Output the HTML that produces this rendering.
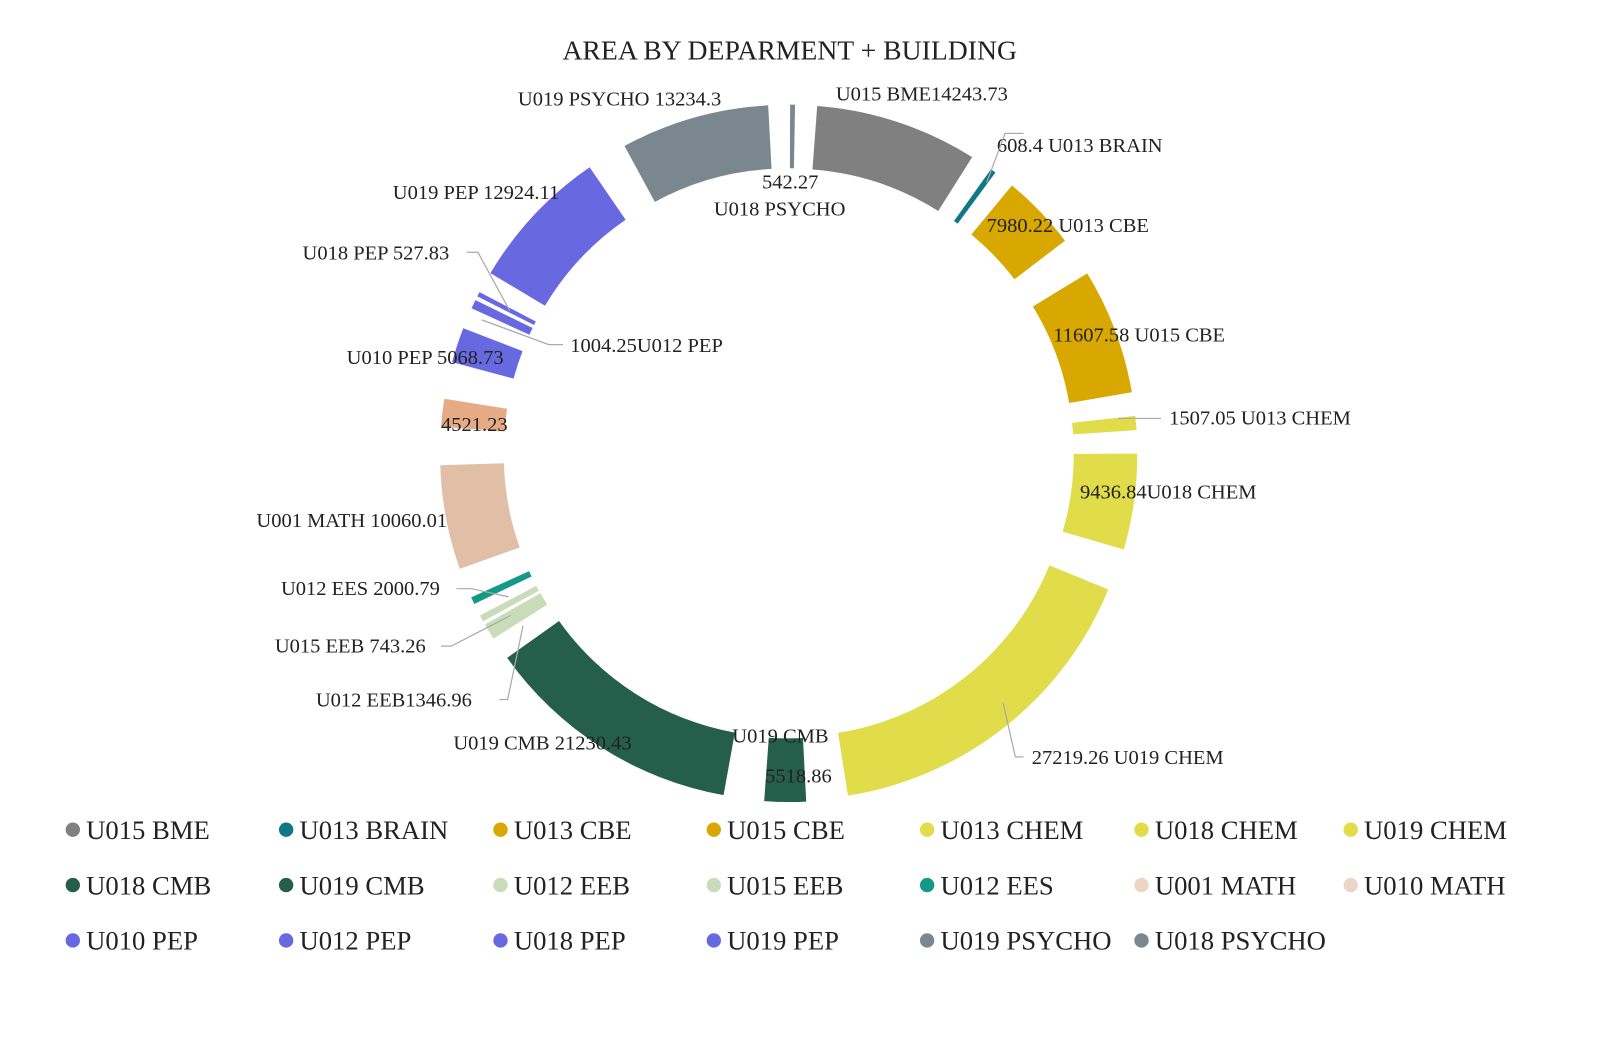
<!DOCTYPE html>
<html><head><meta charset="utf-8"><style>
body{margin:0;background:#fff;}
svg text{font-family:"Liberation Serif",serif;fill:#222;}
</style></head><body>
<svg id="s" width="1600" height="1036" xmlns="http://www.w3.org/2000/svg">
<g transform="scale(1.0256)">
<text x="770" y="58" font-size="27" text-anchor="middle">AREA BY DEPARMENT + BUILDING</text>
<g id="arcs"></g>
<g font-size="20">
<text x="505" y="103">U019 PSYCHO 13234.3</text>
<text x="815" y="98">U015 BME14243.73</text>
<text x="743" y="184">542.27</text>
<text x="696" y="210">U018 PSYCHO</text>
<text x="972" y="148">608.4 U013 BRAIN</text>
<text x="962" y="226">7980.22 U013 CBE</text>
<text x="1027" y="333">11607.58 U015 CBE</text>
<text x="1140" y="414">1507.05 U013 CHEM</text>
<text x="1053" y="486">9436.84U018 CHEM</text>
<text x="1006" y="745">27219.26 U019 CHEM</text>
<text x="714" y="724">U019 CMB</text>
<text x="746" y="763">5518.86</text>
<text x="442" y="731">U019 CMB 21230.43</text>
<text x="308" y="689">U012 EEB1346.96</text>
<text x="268" y="636">U015 EEB 743.26</text>
<text x="274" y="580">U012 EES 2000.79</text>
<text x="250" y="514">U001 MATH 10060.01</text>
<text x="430" y="420">4521.23</text>
<text x="338" y="355">U010 PEP 5068.73</text>
<text x="556" y="343">1004.25U012 PEP</text>
<text x="295" y="253">U018 PEP 527.83</text>
<text x="383" y="194">U019 PEP 12924.11</text>
</g>
<g stroke="#aaa" stroke-width="1.2" fill="none">
<polyline points="998,130 980,130 962,178"/>
<polyline points="1132,408 1090,408"/>
<polyline points="998,738 990,738 978,685"/>
<polyline points="487,682 495,682 510,610"/>
<polyline points="430,630 440,630 498,600"/>
<polyline points="445,574 460,574 496,582"/>
<polyline points="455,246 466,246 497,303"/>
<polyline points="549,336 535,336 470,312"/>
</g>
<g id="leg" font-size="26"></g>
</g>
</svg>
<script>
var d=[["U018 PSYCHO",542.27,"#7a878f"],["U015 BME",14243.73,"#808080"],["U013 BRAIN",608.4,"#0f7886"],["U013 CBE",7980.22,"#d9a800"],["U015 CBE",11607.58,"#d9a800"],["U013 CHEM",1507.05,"#e0dc4a"],["U018 CHEM",9436.84,"#e0dc4a"],["U019 CHEM",27219.26,"#e0dc4a"],["U018 CMB",5518.86,"#255e4a"],["U019 CMB",21230.43,"#255e4a"],["U012 EEB",1346.96,"#c9dbb8"],["U015 EEB",743.26,"#c9dbb8"],["U012 EES",2000.79,"#129a86"],["U001 MATH",10060.01,"#e0bfa6"],["U010 MATH",4521.23,"#e6aa84"],["U010 PEP",5068.73,"#6868e0"],["U012 PEP",1004.25,"#6868e0"],["U018 PEP",527.83,"#6868e0"],["U019 PEP",12924.11,"#6868e0"],["U019 PSYCHO",13234.3,"#7a878f"]];
var tot=0;d.forEach(function(e){tot+=e[1]});
var cx=769,cy=442,R=330,r=268,off=10,a=0,h="";
function p(rad,ang,ox,oy){return [(cx+ox+rad*Math.sin(ang)).toFixed(1),(cy+oy-rad*Math.cos(ang)).toFixed(1)].join(",");}
d.forEach(function(e){var sw=e[1]/tot*360;var g=sw>3?6:sw*0.35;var a0=a+g/2,a1=a+sw-g/2;var m=(a+sw/2)*Math.PI/180;var ox=off*Math.sin(m),oy=-off*Math.cos(m);var A0=a0*Math.PI/180,A1=a1*Math.PI/180;var lg=(a1-a0)>180?1:0;
h+='<path fill="'+e[2]+'" d="M'+p(R,A0,ox,oy)+' A'+R+','+R+' 0 '+lg+' 1 '+p(R,A1,ox,oy)+' L'+p(r,A1,ox,oy)+' A'+r+','+r+' 0 '+lg+' 0 '+p(r,A0,ox,oy)+'Z"/>';a+=sw;});
document.getElementById("arcs").innerHTML=h;
var order=["U015 BME","U013 BRAIN","U013 CBE","U015 CBE","U013 CHEM","U018 CHEM","U019 CHEM","U018 CMB","U019 CMB","U012 EEB","U015 EEB","U012 EES","U001 MATH","U010 MATH","U010 PEP","U012 PEP","U018 PEP","U019 PEP","U019 PSYCHO","U018 PSYCHO"];
var col={};d.forEach(function(e){col[e[0]]=e[2]});col["U010 MATH"]="#ecd5c6";col["U001 MATH"]="#ecd5c6";
var xs=[64,272,481,689,897,1106,1310],g="";
order.forEach(function(n,i){var x=xs[i%7],y=808+54*Math.floor(i/7);g+='<circle cx="'+(x+7)+'" cy="'+(y+1)+'" r="7" fill="'+col[n]+'"/><text x="'+(x+20)+'" y="'+(y+10)+'">'+n+'</text>';});
document.getElementById("leg").innerHTML=g;
</script>
</body></html>
